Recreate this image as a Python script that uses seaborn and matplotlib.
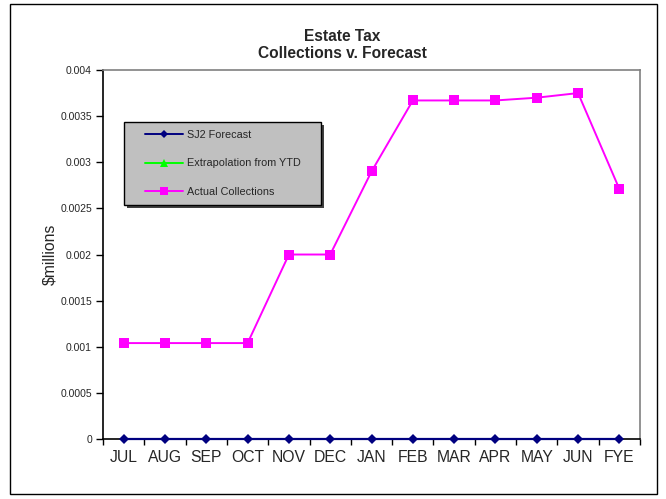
import numpy as np
import pandas as pd
import matplotlib
matplotlib.use('Agg')
import matplotlib.pyplot as plt
from matplotlib.lines import Line2D
from matplotlib.patches import Rectangle
from matplotlib.ticker import FuncFormatter, FixedLocator
import seaborn as sns

# dados
meses = ['JUL', 'AUG', 'SEP', 'OCT', 'NOV', 'DEC', 'JAN', 'FEB', 'MAR', 'APR', 'MAY', 'JUN', 'FYE']
sj2_forecast = [0, 0, 0, 0, 0, 0, 0, 0, 0, 0, 0, 0, 0]
extrapolacao = [np.nan] * 13  # serie vazia, so aparece na legenda
actual = [0.00104, 0.00104, 0.00104, 0.00104, 0.002, 0.002, 0.0029,
          0.00367, 0.00367, 0.00367, 0.0037, 0.00375, 0.00271]
y_ticks = [0, 0.0005, 0.001, 0.0015, 0.002, 0.0025, 0.003, 0.0035, 0.004]

sns.set_style('white')
plt.rcParams['font.family'] = ['Liberation Sans', 'DejaVu Sans']

W, H = 666, 499
fig = plt.figure(figsize=(6.66, 4.99), dpi=100)
ax = fig.add_axes([0.1547, 0.1202, 0.8063, 0.7395])

df = pd.DataFrame({'Mes': meses, 'SJ2': sj2_forecast, 'Extrap': extrapolacao, 'Actual': actual})

# linha das coletas reais
sns.lineplot(data=df, x='Mes', y='Actual', ax=ax, sort=False, color='#FF00FF',
             marker='s', markersize=6.5, markeredgewidth=0, linewidth=1.4, zorder=3)
# previsao SJ2 (zero)
sns.lineplot(data=df, x='Mes', y='SJ2', ax=ax, sort=False, color='#000080',
             marker='D', markersize=5.5, markeredgewidth=0, linewidth=1.6, zorder=4,
             clip_on=False)

ax.set_xlim(-0.5, len(meses) - 0.5)
ax.set_ylim(0, 0.004)
ax.yaxis.set_major_locator(FixedLocator(y_ticks))
ax.yaxis.set_major_formatter(FuncFormatter(lambda v, p: format(v, 'g')))
ax.tick_params(axis='y', which='major', left=True, length=5, width=1, color='black',
               labelsize=7.5, pad=3, direction='out')

# ticks do eixo x entre as categorias
ax.set_xticks(range(len(meses)))
ax.set_xticklabels(meses)
ax.set_xticks(np.arange(-0.5, len(meses), 1), minor=True)
ax.tick_params(axis='x', which='major', length=0, labelsize=11.3, pad=8)
ax.tick_params(axis='x', which='minor', bottom=True, length=4, width=1, color='black',
               direction='out')

ax.set_xlabel('')
ax.set_ylabel('$millions', fontsize=11.3, labelpad=2)

for lado in ['left', 'bottom']:
    ax.spines[lado].set_color('black')
    ax.spines[lado].set_linewidth(1.2)
for lado in ['top', 'right']:
    ax.spines[lado].set_color('#808080')
    ax.spines[lado].set_linewidth(1.2)
ax.grid(False)

fig.suptitle('Estate Tax\nCollections v. Forecast', x=0.5145, y=0.942,
             fontsize=11.2, fontweight='bold', linespacing=1.15)

# caixa da legenda (com sombra) desenhada a parte
lx0, ly0, lx1, ly1 = 124, 122, 321, 205
fig.patches.append(Rectangle(((lx0 + 3) / W, 1 - (ly1 + 3) / H), (lx1 - lx0) / W, (ly1 - ly0) / H,
                             transform=fig.transFigure, facecolor='#404040', edgecolor='none',
                             zorder=1))
fig.patches.append(Rectangle((lx0 / W, 1 - ly1 / H), (lx1 - lx0) / W, (ly1 - ly0) / H,
                             transform=fig.transFigure, facecolor='#C0C0C0', edgecolor='black',
                             linewidth=1, zorder=2))

handles = [
    Line2D([], [], color='#000080', marker='D', markersize=4.5, markeredgewidth=0, linewidth=1.4),
    Line2D([], [], color='#00FF00', marker='^', markersize=5.5, markeredgewidth=0, linewidth=1.4),
    Line2D([], [], color='#FF00FF', marker='s', markersize=5.5, markeredgewidth=0, linewidth=1.4),
]
nomes = ['SJ2 Forecast', 'Extrapolation from YTD', 'Actual Collections']
leg = fig.legend(handles, nomes, loc='upper left', bbox_to_anchor=(145 / W, 1 - 130 / H),
                 fontsize=7.8, frameon=False, handlelength=3.5, labelspacing=1.7,
                 borderpad=0, handletextpad=0.4, borderaxespad=0)
leg.set_zorder(5)

# borda externa da figura
fig.patches.append(Rectangle((0.015, 0.010), 0.971, 0.982, transform=fig.transFigure,
                             fill=False, edgecolor='black', linewidth=1))

fig.savefig('out.png', dpi=100)
